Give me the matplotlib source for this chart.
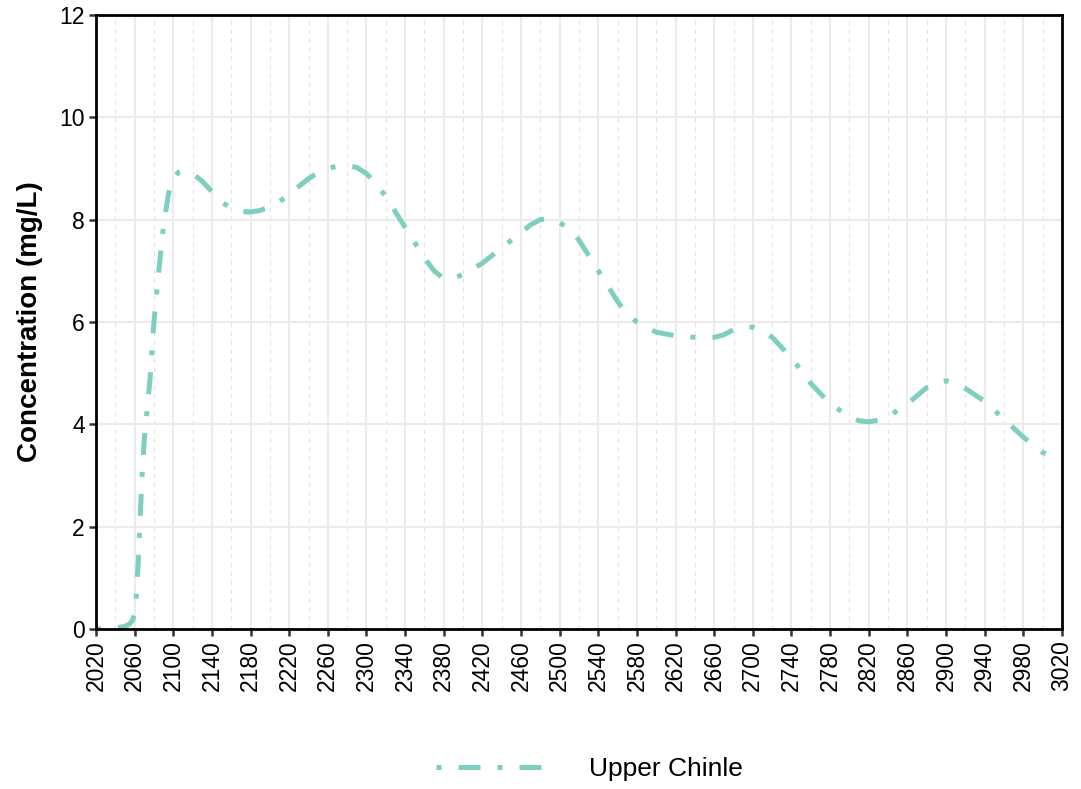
import matplotlib.pyplot as plt
from matplotlib.ticker import MultipleLocator

plt.rcParams['font.family'] = ['Liberation Sans', 'DejaVu Sans']

# values
years = [2020, 2040, 2050, 2055, 2058, 2060, 2062, 2064, 2066, 2068, 2070, 2073,
         2076, 2080, 2085, 2090, 2095, 2100, 2105, 2110, 2120, 2130, 2140, 2150,
         2160, 2170, 2180, 2190, 2200, 2210, 2220, 2240, 2250, 2260, 2270, 2280,
         2290, 2300, 2310, 2320, 2340, 2360, 2370, 2380, 2390, 2400, 2420, 2440,
         2460, 2470, 2480, 2490, 2500, 2510, 2520, 2540, 2560, 2570, 2580, 2600,
         2620, 2640, 2660, 2670, 2680, 2690, 2700, 2710, 2720, 2740, 2760, 2780,
         2800, 2810, 2820, 2830, 2840, 2860, 2880, 2890, 2900, 2910, 2920, 2940,
         2960, 2980, 3000, 3010, 3020]
upper_chinle = [0.0, 0.02, 0.05, 0.1, 0.18, 0.3, 0.7, 1.4, 2.3, 3.1, 3.7, 4.3,
                4.9, 6.0, 7.0, 7.9, 8.5, 8.8, 8.92, 8.95, 8.9, 8.75, 8.55, 8.35,
                8.22, 8.16, 8.15, 8.18, 8.25, 8.35, 8.5, 8.8, 8.92, 9.0, 9.05, 9.06,
                9.02, 8.9, 8.7, 8.45, 7.85, 7.25, 7.0, 6.85, 6.85, 6.93, 7.15, 7.45,
                7.75, 7.9, 8.0, 8.02, 7.95, 7.8, 7.6, 7.0, 6.4, 6.15, 6.0, 5.8,
                5.73, 5.7, 5.7, 5.75, 5.85, 5.9, 5.9, 5.82, 5.7, 5.3, 4.8, 4.4,
                4.15, 4.07, 4.05, 4.08, 4.15, 4.4, 4.72, 4.82, 4.85, 4.8, 4.7, 4.45,
                4.1, 3.75, 3.45, 3.36, 3.32]
series_name = 'Upper Chinle'
x_ticks = list(range(2020, 3021, 40))
y_ticks = [0, 2, 4, 6, 8, 10, 12]

fig = plt.figure(figsize=(10.81, 7.89), dpi=100)
ax = fig.add_axes([0.0888, 0.2028, 0.8936, 0.7782])

ax.plot(years, upper_chinle, color='#7fcfc0', linewidth=3.6,
        dashes=(1.0, 3.4, 4.4, 3.4), label=series_name)

ax.set_xlim(2020, 3020)
ax.set_ylim(0, 12)
ax.set_xticks(x_ticks)
ax.set_xticks([t + 20 for t in x_ticks[:-1]], minor=True)
ax.set_yticks(y_ticks)

ax.grid(True, which='major', color='#ebebeb', linewidth=1.5)
ax.grid(True, which='minor', axis='x', color='#e3e3e3', linewidth=0.8,
        linestyle=(0, (4, 4)))
ax.set_axisbelow(True)

for s in ax.spines.values():
    s.set_linewidth(2)
    s.set_color('black')

ax.tick_params(axis='both', which='major', labelsize=16.5, length=5, width=1.8,
               color='#333333', labelcolor='black', pad=3)
ax.tick_params(axis='x', which='minor', length=0)
ax.tick_params(axis='x', labelrotation=90)

ax.set_ylabel('Concentration (mg/L)', fontsize=20, fontweight='bold', labelpad=12)

leg = fig.legend(loc='center', bbox_to_anchor=(0.545, 0.025), frameon=False,
                 fontsize=19, handlelength=4.2, handletextpad=1.6)

fig.savefig('out.png', dpi=100)
